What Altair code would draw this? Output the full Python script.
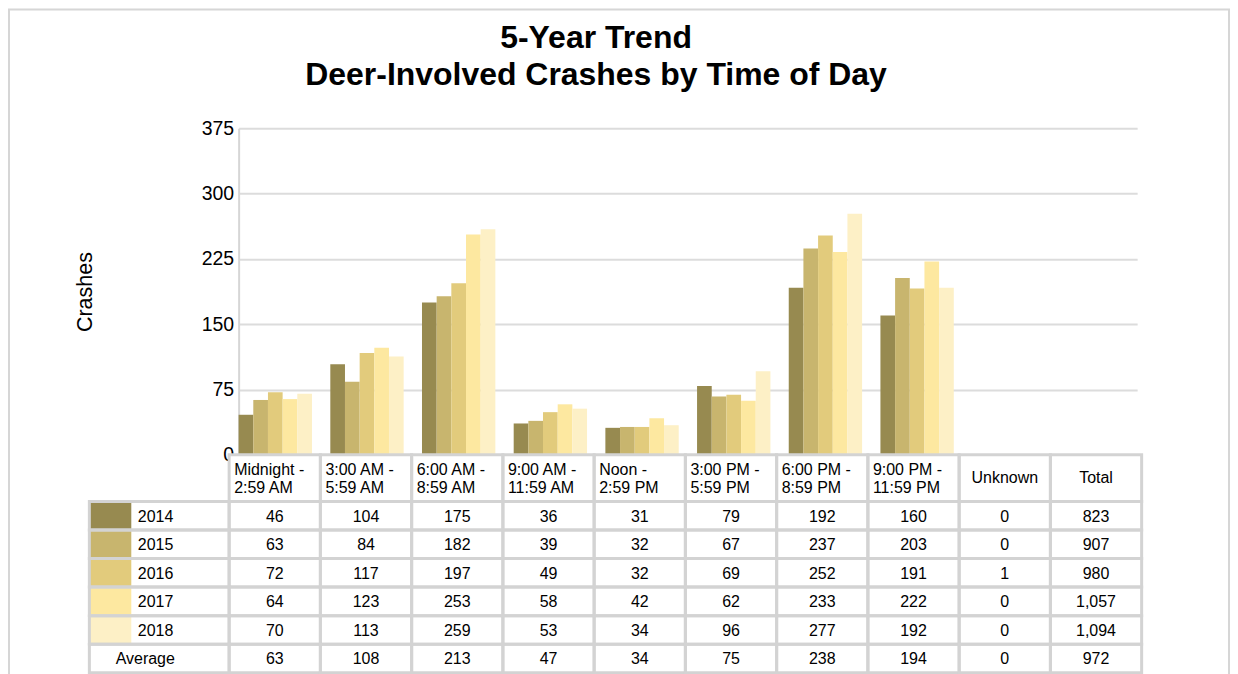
import altair as alt
import pandas as pd

# ---------------- data ----------------
categories = ["Midnight - 2:59 AM", "3:00 AM - 5:59 AM", "6:00 AM - 8:59 AM",
              "9:00 AM - 11:59 AM", "Noon - 2:59 PM", "3:00 PM - 5:59 PM",
              "6:00 PM - 8:59 PM", "9:00 PM - 11:59 PM", "Unknown", "Total"]
years = ["2014", "2015", "2016", "2017", "2018"]
crashes_2014 = [46, 104, 175, 36, 31, 79, 192, 160, 0, 823]
crashes_2015 = [63, 84, 182, 39, 32, 67, 237, 203, 0, 907]
crashes_2016 = [72, 117, 197, 49, 32, 69, 252, 191, 1, 980]
crashes_2017 = [64, 123, 253, 58, 42, 62, 233, 222, 0, 1057]
crashes_2018 = [70, 113, 259, 53, 34, 96, 277, 192, 0, 1094]
average_row = [63, 108, 213, 47, 34, 75, 238, 194, 0, 972]
y_tick_values = [0, 75, 150, 225, 300, 375]
year_colors = ["#978a50", "#c8b56e", "#e2cb7c", "#fde8a0", "#fdf0c6"]

series = dict(zip(years, [crashes_2014, crashes_2015, crashes_2016,
                          crashes_2017, crashes_2018]))

# ---------------- styling / layout ----------------
FONT = "Liberation Sans"
BORDER = "#d3d3d3"
GRID = "#dcdcdc"
W, H = 900, 327

TABLE_LEFT_PX = -149.5
COLS_LEFT_PX = -9.5
COLS_RIGHT_PX = 904.5
n_cols = len(categories)
COL_PX = (COLS_RIGHT_PX - COLS_LEFT_PX) / n_cols
LABEL_SPAN = (COLS_LEFT_PX - TABLE_LEFT_PX) / COL_PX
SWATCH_SPAN = 42.0 / COL_PX
ROW_PX = 28.6
HEADER_PX = 46.7
HDR = HEADER_PX / ROW_PX
row_labels = years + ["Average"]
row_values = [series[y] for y in years] + [average_row]
n_rows = len(row_labels)
TABLE_TOP = H
TABLE_BOTTOM = H + HEADER_PX + n_rows * ROW_PX

tx_scale = alt.Scale(domain=[-LABEL_SPAN, n_cols], range=[TABLE_LEFT_PX, COLS_RIGHT_PX],
                     nice=False, zero=False)
ty_scale = alt.Scale(domain=[-HDR, n_rows], range=[TABLE_TOP, TABLE_BOTTOM],
                     nice=False, zero=False)
color_scale = alt.Scale(domain=years, range=year_colors)

# ---------------- tables built from the arrays ----------------
bars_df = pd.DataFrame([
    {"period": c, "year": y, "crashes": v}
    for y in years for c, v in zip(categories, series[y]) if c != "Total"
])

cells_df = pd.DataFrame([
    {"row": lab, "c0": c, "c1": c + 1, "r0": r, "r1": r + 1,
     "cm": c + 0.5, "rm": r + 0.5, "value": v}
    for r, (lab, vals) in enumerate(zip(row_labels, row_values))
    for c, v in enumerate(vals)
])

header_df = pd.DataFrame([
    {"c0": c, "c1": c + 1, "r0": -HDR, "r1": 0, "cm": c + 0.5, "rm": -HDR / 2,
     "text": cat.replace(" - ", " -\n"), "multi": " - " in cat}
    for c, cat in enumerate(categories)
])

labels_df = pd.DataFrame([
    {"c0": -LABEL_SPAN, "c1": 0, "csw": -LABEL_SPAN + SWATCH_SPAN,
     "r0": r, "r1": r + 1, "rm": r + 0.5, "label": lab, "is_year": lab in years}
    for r, lab in enumerate(row_labels)
])

boxes_df = pd.concat([
    cells_df[["c0", "c1", "r0", "r1"]],
    header_df[["c0", "c1", "r0", "r1"]],
    labels_df[["c0", "c1", "r0", "r1"]],
], ignore_index=True)

# ---------------- layers ----------------
frame = alt.Chart(pd.DataFrame({"k": [0]})).mark_rect(
    fillOpacity=0, stroke="#d6d6d6", strokeWidth=2
).encode(x=alt.value(-230), x2=alt.value(992), y=alt.value(-119), y2=alt.value(580))

bars = alt.Chart(bars_df).mark_bar().encode(
    x=alt.X("period:N", sort=categories,
            scale=alt.Scale(domain=categories, paddingInner=0.2, paddingOuter=0),
            axis=None),
    xOffset=alt.XOffset("year:N", scale=alt.Scale(domain=years, paddingInner=0, paddingOuter=0)),
    y=alt.Y("crashes:Q", scale=alt.Scale(domain=[0, 375], nice=False),
            axis=alt.Axis(values=y_tick_values, title="Crashes",
                          titleFont=FONT, titleFontSize=21.5, titleFontWeight="normal",
                          titleColor="black", titleX=-153, titleY=H / 2, titleAngle=270,
                          titleAlign="center", titleBaseline="middle",
                          labelFont=FONT, labelFontSize=19.5, labelColor="black",
                          labelPadding=5, ticks=False,
                          domainColor="#d6d6d6", domainWidth=2,
                          gridColor=GRID, gridWidth=2)),
    color=alt.Color("year:N", scale=color_scale, legend=None),
)

def tx(field):
    return alt.X(field, scale=tx_scale, axis=None)

def ty(field):
    return alt.Y(field, scale=ty_scale, axis=None)

fills = alt.Chart(boxes_df).mark_rect(fill="white").encode(
    x=tx("c0:Q"), x2="c1", y=ty("r0:Q"), y2="r1")

swatches = alt.Chart(labels_df[labels_df["is_year"]]).mark_rect().encode(
    x=tx("c0:Q"), x2="csw", y=ty("r0:Q"), y2="r1",
    color=alt.Color("label:N", scale=color_scale, legend=None))

borders = alt.Chart(boxes_df).mark_rect(fillOpacity=0, stroke=BORDER, strokeWidth=3).encode(
    x=tx("c0:Q"), x2="c1", y=ty("r0:Q"), y2="r1")

txt = dict(font=FONT, fontSize=16, color="black", baseline="middle")

head_multi = alt.Chart(header_df[header_df["multi"]]).mark_text(
    align="left", dx=5, dy=-8.5, lineBreak="\n", lineHeight=18, **txt
).encode(x=tx("c0:Q"), y=ty("rm:Q"), text="text:N")

head_single = alt.Chart(header_df[~header_df["multi"]]).mark_text(
    align="center", **txt
).encode(x=tx("cm:Q"), y=ty("rm:Q"), text="text:N")

numbers = alt.Chart(cells_df).mark_text(align="center", dy=1, **txt).encode(
    x=tx("cm:Q"), y=ty("rm:Q"), text=alt.Text("value:Q", format=","))

year_labels = alt.Chart(labels_df[labels_df["is_year"]]).mark_text(
    align="left", dx=48.5, dy=1, **txt
).encode(x=tx("c0:Q"), y=ty("rm:Q"), text="label:N")

avg_label = alt.Chart(labels_df[~labels_df["is_year"]]).mark_text(
    align="center", dx=56, dy=1, **txt
).encode(x=tx("c0:Q"), y=ty("rm:Q"), text="label:N")

chart = alt.layer(
    frame, bars, fills, swatches, borders,
    head_multi, head_single, numbers, year_labels, avg_label
).resolve_scale(
    x="independent", y="independent"
).properties(
    width=W, height=H,
    autosize=alt.AutoSizeParams(type="none"),
    padding={"left": 231, "top": 120, "right": 93, "bottom": 219},
    title=alt.TitleParams(
        text=["5-Year Trend", "Deer-Involved Crashes by Time of Day"],
        font=FONT, fontSize=32, fontWeight="bold", color="black",
        anchor="middle", frame="group", dx=-92, offset=-84, lineHeight=37),
).configure_view(strokeOpacity=0)

chart.save("out.html", embed_options={"renderer": "svg", "actions": False})
